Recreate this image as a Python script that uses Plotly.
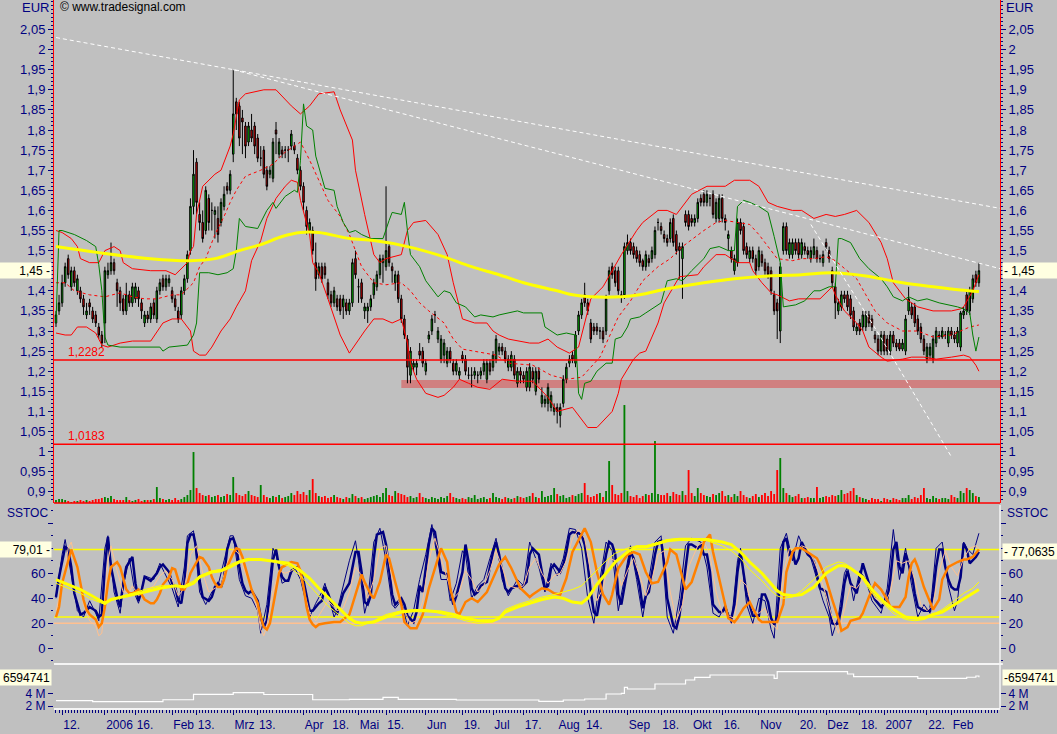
import plotly.graph_objects as go

NAVY = "#000080"
FONT = "Liberation Sans, Arial, sans-serif"

# ---------------- daily candles (trading-day index 0 = 8 Dec 2005) ----------------
opens = [
 1.32,1.35,1.37,1.42,1.48,1.41,1.45,1.40,1.40,1.38,
 1.34,1.37,1.35,1.34,1.31,1.29,1.32,1.44,1.45,1.47,
 1.42,1.40,1.38,1.35,1.39,1.37,1.38,1.40,1.37,1.32,
 1.34,1.33,1.37,1.33,1.40,1.43,1.41,1.42,1.40,1.38,
 1.35,1.34,1.40,1.43,1.50,1.61,1.72,1.59,1.57,1.55,
 1.63,1.60,1.59,1.58,1.57,1.61,1.66,1.65,1.74,1.87,
 1.86,1.83,1.81,1.77,1.80,1.81,1.78,1.73,1.75,1.70,
 1.69,1.68,1.80,1.74,1.75,1.75,1.75,1.76,1.76,1.73,
 1.70,1.66,1.60,1.55,1.55,1.47,1.44,1.46,1.46,1.42,
 1.39,1.37,1.38,1.38,1.36,1.37,1.35,1.37,1.48,1.41,
 1.42,1.35,1.35,1.36,1.39,1.41,1.44,1.47,1.46,1.51,
 1.46,1.42,1.44,1.38,1.33,1.28,1.19,1.21,1.21,1.25,
 1.25,1.20,1.28,1.30,1.34,1.28,1.23,1.24,1.22,1.25,
 1.22,1.20,1.19,1.24,1.23,1.19,1.19,1.19,1.19,1.19,
 1.20,1.18,1.22,1.21,1.23,1.25,1.26,1.25,1.21,1.21,
 1.23,1.17,1.20,1.19,1.16,1.16,1.20,1.15,1.20,1.12,
 1.12,1.12,1.11,1.10,1.11,1.09,1.12,1.18,1.22,1.24,
 1.22,1.30,1.34,1.39,1.37,1.32,1.31,1.31,1.30,1.30,
 1.30,1.40,1.46,1.45,1.45,1.39,1.39,1.50,1.52,1.51,
 1.50,1.49,1.475,1.46,1.48,1.48,1.49,1.57,1.56,1.54,
 1.53,1.53,1.58,1.54,1.51,1.48,1.59,1.59,1.58,1.57,
 1.58,1.63,1.64,1.62,1.63,1.64,1.58,1.58,1.63,1.58,
 1.53,1.50,1.45,1.47,1.57,1.56,1.51,1.48,1.50,1.48,
 1.46,1.49,1.47,1.46,1.45,1.39,1.37,1.30,1.50,1.56,
 1.49,1.49,1.52,1.52,1.49,1.51,1.50,1.48,1.49,1.50,
 1.48,1.47,1.52,1.50,1.45,1.41,1.35,1.36,1.39,1.39,
 1.38,1.35,1.30,1.32,1.31,1.31,1.34,1.33,1.29,1.28,
 1.25,1.29,1.28,1.25,1.29,1.27,1.27,1.255,1.25,1.35,
 1.36,1.36,1.33,1.31,1.28,1.23,1.24,1.23,1.27,1.29,
 1.285,1.29,1.27,1.30,1.29,1.27,1.26,1.34,1.39,1.35,
 1.38,1.44,1.42]
highs = [
 1.35,1.39,1.44,1.47,1.49,1.46,1.46,1.44,1.41,1.39,
 1.37,1.38,1.36,1.35,1.32,1.30,1.46,1.47,1.52,1.48,
 1.43,1.41,1.39,1.42,1.40,1.42,1.42,1.41,1.38,1.35,
 1.35,1.37,1.38,1.41,1.43,1.44,1.44,1.44,1.41,1.39,
 1.36,1.41,1.44,1.50,1.63,1.75,1.73,1.62,1.60,1.66,
 1.64,1.62,1.61,1.61,1.63,1.66,1.67,1.70,1.95,1.88,
 1.87,1.85,1.82,1.82,1.84,1.82,1.79,1.76,1.76,1.71,
 1.71,1.78,1.82,1.78,1.76,1.76,1.76,1.80,1.77,1.74,
 1.71,1.67,1.61,1.58,1.56,1.52,1.47,1.47,1.47,1.43,
 1.40,1.41,1.39,1.39,1.39,1.38,1.38,1.48,1.50,1.43,
 1.43,1.37,1.37,1.39,1.43,1.45,1.49,1.49,1.66,1.52,
 1.47,1.45,1.45,1.39,1.34,1.29,1.26,1.23,1.23,1.27,
 1.26,1.23,1.30,1.34,1.35,1.31,1.29,1.28,1.26,1.26,
 1.23,1.23,1.21,1.25,1.24,1.21,1.21,1.21,1.20,1.21,
 1.23,1.23,1.23,1.25,1.29,1.27,1.27,1.26,1.24,1.25,
 1.24,1.21,1.21,1.20,1.21,1.22,1.21,1.21,1.21,1.16,
 1.14,1.17,1.15,1.12,1.12,1.12,1.19,1.22,1.24,1.25,
 1.30,1.35,1.38,1.42,1.38,1.33,1.32,1.32,1.31,1.31,
 1.39,1.46,1.47,1.46,1.46,1.40,1.52,1.54,1.53,1.52,
 1.51,1.50,1.48,1.50,1.49,1.51,1.56,1.58,1.57,1.55,
 1.54,1.58,1.59,1.55,1.52,1.52,1.60,1.60,1.59,1.59,
 1.63,1.64,1.65,1.65,1.64,1.65,1.63,1.64,1.64,1.59,
 1.55,1.51,1.49,1.58,1.58,1.57,1.52,1.51,1.51,1.49,
 1.51,1.50,1.48,1.47,1.46,1.40,1.38,1.47,1.57,1.57,
 1.53,1.53,1.53,1.53,1.53,1.52,1.51,1.51,1.53,1.51,
 1.49,1.50,1.53,1.51,1.46,1.42,1.38,1.40,1.40,1.40,
 1.39,1.36,1.32,1.33,1.35,1.35,1.35,1.34,1.30,1.29,
 1.30,1.30,1.29,1.30,1.30,1.28,1.28,1.28,1.34,1.41,
 1.37,1.37,1.34,1.32,1.29,1.27,1.27,1.29,1.31,1.30,
 1.31,1.30,1.31,1.31,1.30,1.31,1.35,1.36,1.40,1.41,
 1.44,1.45,1.47]
lows = [
 1.31,1.34,1.36,1.41,1.43,1.40,1.41,1.39,1.37,1.34,
 1.33,1.34,1.32,1.31,1.28,1.26,1.27,1.43,1.44,1.44,
 1.36,1.35,1.34,1.34,1.36,1.36,1.37,1.36,1.33,1.31,
 1.32,1.32,1.33,1.32,1.39,1.40,1.40,1.41,1.37,1.35,
 1.32,1.33,1.39,1.42,1.49,1.59,1.59,1.55,1.52,1.54,
 1.55,1.55,1.53,1.52,1.56,1.60,1.64,1.64,1.72,1.80,
 1.76,1.74,1.73,1.76,1.77,1.74,1.72,1.71,1.68,1.65,
 1.68,1.67,1.74,1.73,1.73,1.73,1.72,1.75,1.74,1.69,
 1.65,1.60,1.54,1.54,1.49,1.40,1.43,1.42,1.43,1.38,
 1.36,1.36,1.35,1.34,1.33,1.34,1.34,1.36,1.43,1.37,
 1.37,1.33,1.32,1.35,1.38,1.40,1.43,1.42,1.45,1.46,
 1.42,1.40,1.37,1.32,1.28,1.17,1.17,1.20,1.19,1.23,
 1.21,1.19,1.27,1.29,1.32,1.27,1.22,1.22,1.21,1.22,
 1.19,1.19,1.18,1.22,1.19,1.18,1.16,1.18,1.17,1.18,
 1.19,1.17,1.19,1.20,1.22,1.24,1.24,1.22,1.20,1.20,
 1.18,1.16,1.17,1.17,1.15,1.15,1.17,1.14,1.17,1.11,
 1.11,1.10,1.10,1.09,1.07,1.06,1.11,1.17,1.21,1.22,
 1.21,1.29,1.33,1.36,1.34,1.27,1.29,1.29,1.28,1.27,
 1.29,1.39,1.43,1.41,1.39,1.37,1.38,1.49,1.49,1.48,
 1.47,1.46,1.45,1.45,1.46,1.47,1.48,1.55,1.54,1.52,
 1.51,1.52,1.51,1.49,1.43,1.38,1.56,1.55,1.56,1.56,
 1.57,1.61,1.61,1.61,1.61,1.58,1.57,1.57,1.57,1.55,
 1.50,1.47,1.44,1.46,1.54,1.49,1.48,1.47,1.47,1.44,
 1.45,1.46,1.44,1.43,1.39,1.34,1.28,1.27,1.49,1.49,
 1.48,1.48,1.49,1.48,1.48,1.49,1.48,1.47,1.48,1.47,
 1.47,1.46,1.50,1.47,1.41,1.33,1.34,1.35,1.37,1.35,
 1.33,1.30,1.29,1.29,1.30,1.30,1.31,1.30,1.27,1.24,
 1.24,1.24,1.24,1.24,1.26,1.25,1.25,1.25,1.24,1.34,
 1.33,1.31,1.29,1.27,1.24,1.22,1.23,1.22,1.26,1.28,
 1.28,1.28,1.26,1.28,1.27,1.26,1.25,1.33,1.34,1.34,
 1.37,1.41,1.41]
closes = [
 1.34,1.37,1.42,1.46,1.44,1.45,1.42,1.43,1.38,1.36,
 1.35,1.36,1.33,1.32,1.29,1.27,1.45,1.45,1.47,1.45,
 1.40,1.37,1.35,1.39,1.37,1.41,1.41,1.38,1.35,1.34,
 1.33,1.36,1.34,1.40,1.42,1.41,1.43,1.43,1.38,1.36,
 1.33,1.40,1.43,1.49,1.61,1.69,1.62,1.57,1.53,1.65,
 1.57,1.60,1.60,1.54,1.62,1.64,1.65,1.69,1.84,1.84,
 1.78,1.82,1.76,1.81,1.78,1.76,1.73,1.73,1.69,1.66,
 1.70,1.77,1.79,1.77,1.74,1.75,1.75,1.79,1.75,1.70,
 1.66,1.62,1.56,1.57,1.50,1.43,1.46,1.43,1.44,1.39,
 1.37,1.40,1.36,1.35,1.38,1.35,1.37,1.47,1.44,1.41,
 1.38,1.36,1.36,1.38,1.42,1.44,1.48,1.48,1.50,1.47,
 1.45,1.44,1.38,1.33,1.29,1.21,1.25,1.22,1.22,1.24,
 1.22,1.22,1.29,1.33,1.34,1.30,1.28,1.27,1.25,1.23,
 1.20,1.22,1.20,1.23,1.20,1.19,1.19,1.20,1.19,1.20,
 1.22,1.22,1.20,1.24,1.28,1.26,1.25,1.23,1.23,1.24,
 1.19,1.20,1.19,1.18,1.20,1.21,1.18,1.20,1.18,1.14,
 1.13,1.16,1.14,1.11,1.10,1.11,1.18,1.21,1.23,1.23,
 1.29,1.34,1.37,1.37,1.35,1.28,1.30,1.30,1.30,1.28,
 1.38,1.45,1.44,1.42,1.40,1.385,1.51,1.52,1.50,1.49,
 1.48,1.47,1.46,1.49,1.47,1.50,1.55,1.57,1.55,1.53,
 1.52,1.57,1.52,1.50,1.50,1.51,1.57,1.56,1.57,1.58,
 1.62,1.62,1.62,1.64,1.63,1.59,1.62,1.63,1.58,1.57,
 1.54,1.48,1.48,1.57,1.55,1.50,1.49,1.50,1.48,1.45,
 1.50,1.47,1.45,1.44,1.40,1.35,1.35,1.46,1.56,1.50,
 1.52,1.52,1.50,1.49,1.52,1.50,1.49,1.50,1.51,1.48,
 1.48,1.49,1.51,1.48,1.42,1.37,1.37,1.39,1.38,1.36,
 1.34,1.31,1.31,1.30,1.34,1.34,1.32,1.31,1.28,1.25,
 1.29,1.25,1.25,1.29,1.27,1.26,1.255,1.27,1.33,1.38,
 1.34,1.32,1.30,1.28,1.25,1.26,1.26,1.28,1.30,1.285,
 1.30,1.29,1.30,1.29,1.28,1.30,1.345,1.35,1.35,1.40,
 1.43,1.42,1.45]
volumes = [  # thousand shares
 3,4,4,3,2,1,2,2,3,2, 3,2,3,4,4,5,6,5,7,4, 3,3,3,6,3,2,3,4,2,3,
 3,3,4,16,5,4,3,4,3,5, 3,4,6,8,13,51,15,10,8,7, 8,6,7,8,6,7,9,8,26,10,
 8,7,9,12,8,7,6,18,8,6, 5,7,6,8,5,6,7,10,8,12, 9,11,8,13,24,10,7,6,7,5,
 6,8,6,5,4,6,5,9,7,5, 6,4,5,6,7,8,6,10,15,8, 7,12,10,9,8,6,7,5,6,10,
 6,5,4,6,5,4,6,5,7,10, 6,5,4,5,4,6,5,8,4,5, 6,4,5,10,6,5,4,6,5,4,
 5,7,6,5,6,7,10,6,5,12, 6,7,8,15,9,7,8,5,6,8, 7,9,10,20,8,6,7,9,10,6,
 12,42,18,9,8,10,98,12,7,6, 8,5,7,9,8,10,62,9,8,8, 10,7,11,9,8,12,8,33,10,7,
 15,10,8,7,6,9,8,10,12,7, 8,6,9,7,12,8,6,5,7,9, 6,8,10,7,12,9,33,45,15,10,
 8,6,7,9,5,5,6,5,5,16, 5,6,7,6,8,7,8,13,9,10, 12,15,8,6,5,4,3,5,4,4,
 2,5,4,3,5,4,3,5,5,8, 4,6,5,8,15,5,4,7,5,4, 5,5,4,8,6,5,12,10,15,13,
 10,7,6]

# ---------------- x-axis labels (trading-day index of each date) ----------------
tick_days = [2, 16, 26, 38, 46, 58, 66, 81, 90, 99, 108, 121, 133, 143, 153, 164, 173,
             187, 198, 208, 218, 230, 243, 252, 263, 271, 285, 293]
tick_labels = ["12.", "2006", "16.", "Feb", "13.", "Mrz", "13.", "Apr", "18.", "Mai", "15.",
               "Jun", "19.", "Jul", "17.", "Aug", "14.", "Sep", "18.", "Okt", "16.", "Nov",
               "20.", "Dez", "18.", "2007", "22.", "Feb"]

price_ticks = [0.9, 0.95, 1.0, 1.05, 1.1, 1.15, 1.2, 1.25, 1.3, 1.35, 1.4, 1.45, 1.5, 1.55,
               1.6, 1.65, 1.7, 1.75, 1.8, 1.85, 1.9, 1.95, 2.0, 2.05]
price_tick_labels = ["0,9", "0,95", "1", "1,05", "1,1", "1,15", "1,2", "1,25", "1,3", "1,35",
                     "1,4", "", "1,5", "1,55", "1,6", "1,65", "1,7", "1,75", "1,8", "1,85",
                     "1,9", "1,95", "2", "2,05"]
stoch_ticks = [0, 20, 40, 60, 80, 100]
stoch_tick_labels = ["0", "20", "40", "60", "", ""]
obv_ticks = [2, 4]
obv_tick_labels = ["2 M", "4 M"]

# ---------------- overlays (day, value) ----------------
bb_upper_pts = [(0,1.55),(2,1.545),(5,1.53),(7,1.51),(8,1.48),(11,1.47),(14,1.47),(16,1.50),(19,1.51),(21,1.50),
 (22,1.47),(25,1.455),(31,1.45),(36,1.45),(39,1.44),(43,1.47),(44,1.50),(45,1.51),(46,1.59),(48,1.66),
 (52,1.69),(54,1.70),(57,1.76),(58,1.79),(60,1.875),(62,1.89),(68,1.90),(72,1.90),(77,1.86),(80,1.84),
 (83,1.86),(86,1.89),(91,1.895),(93,1.85),(97,1.775),(98,1.70),(101,1.59),(104,1.49),(106,1.47),(108,1.48),
 (113,1.49),(115,1.55),(117,1.57),(121,1.575),(125,1.54),(128,1.49),(130,1.42),(133,1.33),(137,1.32),(141,1.32),
 (143,1.30),(145,1.29),(148,1.28),(155,1.27),(158,1.27),(161,1.28),(164,1.26),(168,1.245),(171,1.26),(175,1.38),
 (179,1.41),(182,1.45),(185,1.49),(190,1.55),(192,1.57),(197,1.60),(200,1.60),(203,1.59),(205,1.61),(208,1.64),
 (213,1.66),(219,1.66),(222,1.675),(227,1.675),(230,1.66),(233,1.62),(236,1.61),(241,1.60),(244,1.60),(248,1.58),
 (252,1.59),(255,1.585),(258,1.59),(262,1.60),(266,1.57),(270,1.52),(272,1.48),(274,1.42),(278,1.38),(282,1.36),
 (287,1.35),(293,1.35),(296,1.355),(297,1.36),(300,1.40),(302,1.44)]
bb_lower_pts = [(0,1.295),(3,1.29),(5,1.29),(7,1.31),(10,1.31),(13,1.295),(15,1.265),(17,1.26),(21,1.27),(25,1.275),
 (31,1.275),(35,1.32),(38,1.33),(41,1.33),(44,1.30),(45,1.25),(47,1.24),(49,1.24),(51,1.26),(54,1.30),
 (57,1.33),(59,1.36),(62,1.40),(64,1.475),(67,1.525),(69,1.58),(72,1.63),(75,1.66),(77,1.675),(79,1.67),
 (80,1.625),(83,1.54),(84,1.47),(86,1.445),(89,1.38),(93,1.29),(96,1.245),(99,1.28),(101,1.30),(104,1.33),
 (107,1.33),(110,1.32),(113,1.33),(115,1.27),(116,1.22),(118,1.18),(121,1.145),(125,1.135),(127,1.14),(130,1.16),
 (132,1.18),(135,1.17),(138,1.16),(142,1.155),(146,1.18),(151,1.175),(156,1.175),(161,1.135),(164,1.10),(169,1.11),
 (172,1.08),(174,1.06),(177,1.06),(180,1.085),(182,1.10),(184,1.145),(185,1.18),(189,1.23),(191,1.245),(193,1.25),
 (197,1.32),(199,1.37),(201,1.395),(204,1.435),(210,1.44),(212,1.46),(216,1.49),(219,1.49),(222,1.475),(223,1.47),
 (227,1.47),(228,1.45),(231,1.42),(234,1.395),(236,1.39),(240,1.375),(243,1.38),(250,1.38),(254,1.41),(255,1.39),
 (258,1.35),(262,1.32),(264,1.30),(266,1.26),(270,1.235),(272,1.225),(277,1.23),(280,1.235),(284,1.235),(288,1.23),
 (293,1.235),(297,1.24),(299,1.235),(301,1.215),(302,1.20)]
bb_mid_pts = [(0,1.42),(3,1.42),(6,1.40),(11,1.39),(16,1.385),(21,1.395),(25,1.385),(29,1.38),(33,1.38),(38,1.39),
 (41,1.39),(45,1.42),(47,1.46),(49,1.48),(52,1.54),(55,1.585),(57,1.62),(59,1.65),(62,1.685),(67,1.70),
 (71,1.715),(75,1.745),(79,1.765),(80,1.77),(83,1.725),(86,1.675),(89,1.625),(93,1.585),(96,1.54),(98,1.50),
 (100,1.46),(104,1.42),(108,1.415),(113,1.42),(116,1.40),(119,1.37),(122,1.35),(127,1.32),(130,1.28),(133,1.255),
 (137,1.25),(141,1.245),(144,1.24),(148,1.22),(156,1.215),(162,1.19),(167,1.18),(172,1.185),(175,1.21),(178,1.235),
 (181,1.285),(184,1.335),(188,1.375),(190,1.40),(192,1.425),(197,1.46),(201,1.48),(205,1.51),(212,1.55),(216,1.57),
 (219,1.575),(223,1.57),(227,1.565),(230,1.54),(233,1.51),(236,1.48),(241,1.475),(244,1.48),(248,1.48),(252,1.485),
 (255,1.475),(262,1.43),(265,1.39),(268,1.35),(272,1.32),(277,1.30),(282,1.30),(287,1.285),(293,1.29),(296,1.30),
 (299,1.31),(302,1.315)]
stop_line_pts = [(0,1.32),(1,1.55),(2,1.55),(6,1.54),(10,1.525),(13,1.51),(14,1.465),(15,1.40),(16,1.285),(17,1.265),
 (21,1.26),(27,1.26),(34,1.26),(35,1.25),(37,1.26),(43,1.265),(45,1.29),(46,1.32),(47,1.445),(50,1.445),
 (53,1.44),(56,1.445),(58,1.455),(59,1.50),(60,1.58),(62,1.56),(66,1.555),(69,1.60),(71,1.62),(72,1.605),
 (75,1.635),(78,1.65),(79,1.645),(80,1.725),(81,1.865),(82,1.81),(84,1.80),(85,1.735),(88,1.655),(91,1.65),
 (92,1.61),(94,1.57),(96,1.545),(98,1.55),(100,1.54),(103,1.53),(107,1.53),(109,1.575),(110,1.595),(113,1.59),
 (114,1.62),(115,1.55),(116,1.49),(119,1.46),(121,1.425),(125,1.385),(127,1.40),(129,1.395),(131,1.37),(134,1.36),
 (137,1.335),(139,1.34),(143,1.335),(145,1.34),(151,1.35),(153,1.345),(159,1.345),(160,1.31),(164,1.29),(167,1.295),
 (170,1.29),(171,1.145),(172,1.13),(173,1.17),(175,1.175),(177,1.20),(180,1.22),(182,1.22),(183,1.28),(185,1.285),
 (187,1.31),(188,1.33),(191,1.335),(193,1.345),(198,1.37),(200,1.425),(203,1.43),(205,1.425),(208,1.45),(212,1.48),
 (214,1.505),(217,1.51),(220,1.50),(222,1.50),(223,1.61),(225,1.625),(227,1.62),(230,1.61),(233,1.595),(235,1.535),
 (237,1.47),(238,1.36),(242,1.365),(245,1.375),(248,1.40),(250,1.40),(253,1.41),(255,1.41),(256,1.53),(257,1.53),
 (260,1.52),(263,1.48),(266,1.455),(270,1.43),(272,1.41),(274,1.385),(277,1.375),(279,1.385),(282,1.375),(285,1.38),
 (289,1.37),(295,1.36),(297,1.355),(299,1.345),(300,1.29),(301,1.25),(302,1.285)]
ma_pts = [(0,1.51),(14,1.495),(31,1.48),(44,1.475),(52,1.48),(60,1.50),(67,1.515),(74,1.535),(80,1.545),(86,1.545),
 (96,1.53),(104,1.525),(115,1.51),(126,1.487),(136,1.46),(145,1.44),(153,1.42),(164,1.40),(169,1.39),(175,1.385),
 (185,1.385),(191,1.39),(200,1.405),(212,1.42),(222,1.43),(233,1.437),(244,1.44),(254,1.445),(265,1.437),(277,1.42),
 (287,1.41),(296,1.402),(302,1.398)]

trend_lines = [[(0, 2.03), (309, 1.605)],
               [(58, 1.95), (309, 1.455)],
               [(247, 1.565), (269, 1.295), (293, 0.987)]]
support_levels = [1.2282, 1.0183]
zone_start_day, zone_low, zone_high = 113, 1.158, 1.178

# ---------------- SSTOC panel ----------------
k_thick_pts = [(0,41),(1,57),(3,81),(4,79),(5,65),(6,44),(8,27),(9,28),(11,33),(13,30),(14,25),(15,27),(16,65),(17,89),
 (18,65),(20,41),(21,33),(22,52),(23,65),(25,73),(26,52),(27,38),(28,46),(29,57),(31,54),(33,60),(34,65),(35,67),
 (37,61),(38,52),(39,49),(40,38),(41,36),(42,52),(43,84),(44,91),(45,91),(46,79),(47,54),(48,41),(50,38),(51,41),
 (52,49),(53,52),(54,49),(55,57),(56,79),(57,87),(58,88),(59,81),(60,65),(61,52),(62,46),(63,44),(64,46),(66,38),
 (67,25),(68,17),(69,22),(70,46),(71,71),(72,79),(73,65),(74,57),(75,54),(76,54),(77,62),(79,65),(80,62),(81,54),
 (82,41),(83,30),(84,30),(85,33),(86,36),(87,38),(88,49),(89,44),(91,30),(92,28),(93,36),(94,44),(96,52),(98,77),
 (99,77),(100,61),(101,37),(102,35),(103,42),(104,72),(105,91),(107,93),(108,83),(109,61),(110,43),(111,35),(113,40),
 (114,35),(115,26),(117,21),(118,29),(119,50),(120,45),(122,83),(123,96),(124,93),(125,75),(126,61),(128,59),(129,48),
 (130,35),(131,42),(133,61),(134,83),(135,69),(136,48),(137,43),(138,45),(139,50),(141,53),(143,77),(144,85),(145,75),
 (146,61),(147,48),(148,45),(149,48),(151,50),(152,48),(154,53),(155,75),(156,80),(158,75),(159,61),(160,48),(161,50),
 (162,64),(163,67),(164,64),(165,61),(166,67),(167,77),(168,91),(169,93),(171,92),(172,91),(173,83),(174,67),(175,45),
 (176,29),(177,26),(178,40),(179,61),(180,75),(181,85),(182,83),(183,75),(184,43),(185,35),(187,61),(188,77),(189,72),
 (190,61),(191,50),(192,32),(193,42),(194,45),(195,61),(196,75),(197,85),(198,86),(199,70),(200,40),(202,18),(203,16),
 (204,26),(205,45),(206,61),(207,83),(208,83),(210,80),(211,83),(212,75),(213,75),(214,61),(215,35),(217,29),(218,29),
 (219,32),(220,26),(221,24),(222,35),(223,61),(224,77),(225,59),(226,43),(227,35),(228,26),(230,26),(231,43),(232,43),
 (233,37),(234,24),(235,19),(236,24),(237,53),(238,85),(239,88),(240,75),(241,77),(242,67),(243,72),(244,85),(246,75),
 (247,73),(248,69),(249,59),(250,48),(251,47),(252,45),(253,33),(254,20),(255,19),(256,20),(257,33),(258,52),(259,62),
 (260,52),(262,44),(263,55),(264,68),(265,60),(267,44),(268,39),(270,33),(272,39),(273,55),(274,79),(275,85),(276,65),
 (277,60),(278,76),(280,60),(281,44),(282,33),(284,30),(286,30),(287,44),(288,65),(289,79),(290,79),(291,65),(292,55),
 (293,49),(294,47),(295,47),(296,57),(297,84),(298,79),(299,68),(301,73),(302,77.06)]
k_thin_pts = [(0,40),(2,75),(3,87),(5,60),(7,30),(9,25),(11,38),(13,28),(14,22),(16,80),(17,90),(19,45),(21,28),(22,50),
 (24,72),(26,42),(27,36),(29,58),(32,55),(34,68),(36,58),(38,48),(40,33),(42,65),(43,90),(45,94),(47,45),(49,35),
 (51,45),(53,50),(55,70),(57,90),(58,90),(60,55),(62,42),(64,40),(66,30),(67,12),(69,35),(71,80),(72,75),(74,52),
 (76,55),(78,65),(80,55),(82,35),(83,25),(85,36),(87,45),(88,52),(91,25),(92,30),(94,50),(96,70),(98,86),(99,70),
 (101,28),(102,38),(104,85),(106,96),(108,70),(110,35),(111,32),(113,38),(115,18),(117,30),(119,55),(121,75),(123,99),
 (124,85),(126,55),(128,55),(129,38),(131,52),(133,78),(134,75),(136,40),(138,50),(140,55),(142,72),(144,88),(146,55),
 (148,42),(151,55),(153,50),(155,85),(156,78),(158,65),(160,45),(162,68),(164,58),(166,72),(168,96),(170,95),(172,80),
 (174,40),(176,20),(178,55),(180,85),(182,78),(184,30),(186,55),(188,82),(190,55),(192,25),(194,55),(196,85),(198,90),
 (200,25),(202,12),(204,40),(206,82),(208,88),(211,85),(213,65),(215,28),(217,25),(219,35),(221,20),(223,70),(224,80),
 (226,35),(228,20),(230,40),(232,38),(234,15),(235,8),(237,80),(239,92),(241,70),(243,90),(245,78),(247,72),(249,55),
 (251,38),(253,25),(254,10),(256,25),(258,60),(259,65),(261,38),(263,62),(265,55),(267,38),(270,28),(272,48),(274,95),
 (276,55),(278,80),(280,50),(282,25),(284,35),(286,28),(288,80),(290,85),(292,50),(294,30),(295,38),(297,85),(298,80),
 (300,75),(302,92)]
d_thick_pts = [(0,25),(1,33),(2,52),(4,71),(5,79),(7,65),(8,52),(9,39),(10,31),(11,27),(12,25),(13,23),(14,17),(15,20),
 (16,33),(17,52),(18,65),(20,69),(21,65),(22,55),(23,47),(24,44),(25,44),(26,45),(27,47),(28,43),(29,39),(31,36),
 (32,36),(33,39),(34,44),(35,51),(37,57),(38,64),(39,63),(40,55),(41,47),(42,47),(43,52),(44,60),(45,65),(46,69),
 (47,73),(48,72),(50,65),(51,57),(52,52),(53,49),(54,49),(55,55),(56,65),(57,71),(58,76),(59,80),(60,79),(61,73),
 (62,65),(63,57),(64,47),(66,36),(67,25),(68,17),(69,15),(70,20),(71,33),(72,49),(73,60),(74,65),(75,66),(76,68),
 (77,69),(79,68),(80,62),(81,49),(82,33),(83,23),(84,19),(85,17),(86,19),(88,20),(91,21),(93,21),(96,27),(98,43),
 (100,59),(101,53),(103,43),(104,40),(106,53),(108,75),(109,72),(111,53),(113,35),(114,21),(116,16),(118,16),(120,27),
 (122,48),(125,72),(126,80),(128,69),(129,48),(131,29),(132,27),(134,37),(136,40),(138,37),(141,45),(143,56),(145,67),
 (147,73),(149,64),(152,48),(155,41),(156,43),(159,48),(161,47),(163,44),(165,43),(167,56),(169,77),(172,91),(173,96),
 (175,85),(177,61),(179,43),(181,35),(182,43),(184,64),(187,75),(189,77),(191,75),(193,61),(195,52),(197,53),(200,69),
 (201,79),(203,75),(205,56),(206,47),(208,53),(211,75),(212,85),(214,91),(215,77),(217,56),(219,35),(220,24),(222,21),
 (223,24),(225,32),(227,37),(228,32),(230,23),(231,21),(234,21),(236,21),(238,35),(239,61),(241,77),(242,80),(244,80),
 (247,75),(249,72),(250,67),(252,55),(254,39),(256,24),(257,14),(259,17),(260,22),(263,24),(264,28),(266,41),(268,52),
 (270,47),(272,39),(273,33),(276,33),(278,41),(279,57),(280,68),(281,71),(282,65),(284,49),(286,36),(287,31),(289,39),
 (290,55),(292,65),(294,68),(295,69),(297,71),(298,71),(300,73),(302,79)]
d_thin_pts = [(0,30),(2,50),(4,80),(5,85),(7,62),(9,35),(11,22),(13,18),(14,10),(15,12),(16,40),(17,70),(18,82),(20,62),
 (22,45),(24,45),(25,50),(27,42),(29,45),(32,50),(34,58),(36,62),(38,55),(40,42),(42,48),(44,75),(46,82),(48,60),
 (50,45),(52,48),(54,50),(56,68),(58,80),(60,75),(62,60),(64,48),(66,30),(67,15),(68,10),(69,18),(71,45),(73,62),
 (75,60),(77,62),(79,65),(81,48),(83,28),(85,22),(87,30),(89,38),(92,30),(94,32),(96,45),(98,65),(100,58),(102,40),
 (104,55),(106,80),(108,82),(110,55),(112,38),(114,30),(116,20),(118,22),(120,38),(122,70),(124,88),(126,72),(128,55),
 (130,40),(132,45),(134,62),(136,55),(138,45),(140,50),(142,62),(144,78),(146,65),(148,50),(151,48),(153,50),(155,65),
 (157,72),(159,60),(161,52),(163,58),(165,60),(167,70),(169,88),(171,95),(173,88),(175,60),(177,38),(179,48),(181,72),
 (183,70),(185,50),(187,62),(189,72),(191,58),(193,42),(195,55),(197,75),(199,78),(201,45),(203,22),(205,35),(207,65),
 (210,82),(212,85),(214,75),(216,45),(218,28),(220,26),(222,24),(224,55),(226,50),(228,30),(230,28),(232,32),(234,20),
 (236,15),(238,60),(240,80),(242,78),(244,82),(246,80),(248,70),(250,58),(252,42),(254,25),(256,12),(258,30),(260,50),
 (262,48),(264,55),(266,52),(268,40),(271,35),(273,45),(275,70),(277,68),(279,70),(281,55),(283,35),(285,30),(287,35),
 (289,62),(291,78),(293,65),(295,58),(297,72),(299,80),(301,82),(302,80)]
slow_thick_pts = [(0,55),(4,51),(8,47),(11,43),(14,39),(16,36),(18,39),(22,41),(25,43),(29,45),(34,48),(39,50),(42,49),
 (45,52),(47,57),(51,61),(54,62),(57,65),(60,69),(63,71),(67,71),(70,70),(73,69),(76,68),(80,62),(83,56),(86,48),
 (89,41),(93,31),(96,24),(98,21),(100,20),(104,21),(108,25),(113,29),(117,30),(121,30),(126,29),(130,27),(134,24),
 (138,22),(143,22),(145,24),(147,29),(151,33),(155,36),(159,39),(163,41),(166,40),(169,37),(172,36),(174,40),(177,51),
 (180,60),(183,69),(187,77),(190,81),(193,81),(196,83),(200,86),(204,87),(208,87),(213,87),(218,85),(221,83),(224,77),
 (227,69),(231,60),(234,52),(236,46),(238,43),(241,42),(244,43),(248,49),(252,60),(256,66),(258,66),(260,64),(264,57),
 (267,47),(271,37),(274,31),(278,25),(281,24),(284,24),(287,27),(290,29),(294,35),(297,40),(300,44),(302,47)]
slow_thin_pts = [(0,52),(4,48),(8,44),(11,40),(14,37),(16,35),(18,38),(22,42),(25,44),(29,47),(34,50),(39,50),(42,50),
 (45,54),(47,58),(51,62),(54,63),(57,67),(60,70),(63,72),(67,71),(70,70),(73,68),(76,66),(80,58),(83,50),(86,42),
 (89,34),(93,26),(96,20),(98,18),(100,18),(104,22),(108,27),(113,30),(117,31),(121,31),(126,28),(130,25),(134,22),
 (138,20),(143,21),(145,25),(147,31),(151,35),(155,38),(159,41),(163,43),(166,45),(169,47),(172,50),(174,55),(177,62),
 (180,70),(183,76),(187,80),(190,82),(193,82),(196,84),(200,87),(204,88),(208,88),(213,86),(218,82),(221,78),(224,72),
 (227,63),(231,54),(234,46),(236,42),(238,40),(241,41),(244,46),(248,55),(252,65),(256,69),(258,68),(260,65),(264,55),
 (267,44),(271,35),(274,28),(278,23),(281,22),(284,23),(287,27),(290,31),(294,38),(297,44),(300,48),(302,53)]
stoch_levels = [79.01, 25, 20]

# ---------------- bottom panel (cumulative volume line, shares in millions) ----------------
obv_pts = [(0,2.85),(12,2.69),(35,3.0),(45,3.87),(58,4.13),(68,3.84),(84,3.0),(96,3.07),(107,3.39),(112,3.07),
 (131,2.96),(158,2.75),(166,2.96),(173,3.12),(180,3.92),(185,4.03),(186,4.99),(187,4.72),(196,5.52),(206,6.16),
 (209,6.59),(214,6.96),(235,6.43),(236,7.49),(259,7.12),(261,6.69),(282,6.43),(298,6.6),(301,6.8),(302,6.594741)]

# ---------------- figure ----------------
days = list(range(len(closes)))
unz = lambda pts: ([p[0] for p in pts], [p[1] for p in pts])

fig = go.Figure()
vol_colors = ["#008000" if c >= o else "#FF0000" for o, c in zip(opens, closes)]
fig.add_trace(go.Bar(x=days, y=volumes, yaxis="y5", marker=dict(color=vol_colors, line=dict(width=0)),
                     width=0.6))
fig.add_trace(go.Candlestick(x=days, open=opens, high=highs, low=lows, close=closes,
                             increasing=dict(line=dict(color="black", width=1), fillcolor="#00D000"),
                             decreasing=dict(line=dict(color="black", width=1), fillcolor="#F00000"),
                             whiskerwidth=0))

def line(pts, color, width, yaxis="y", dash=None, shape="linear"):
    x, y = unz(pts)
    fig.add_trace(go.Scatter(x=x, y=y, mode="lines", yaxis=yaxis,
                             line=dict(color=color, width=width, dash=dash, shape=shape)))

line(bb_upper_pts, "#FF0000", 1)
line(bb_lower_pts, "#FF0000", 1)
line(bb_mid_pts, "#FF0000", 1, dash="dot")
line(stop_line_pts, "#008000", 1)
line(ma_pts, "#FFFF00", 3, shape="spline")
for tl in trend_lines:
    line(tl, "#FFFFFF", 1, dash="4px,3px")

line(k_thin_pts, NAVY, 1, "y2")
line(k_thick_pts, NAVY, 2.5, "y2")
line(d_thin_pts, "#FFC090", 1, "y2")
line(d_thick_pts, "#FF8000", 2.5, "y2")
line(slow_thin_pts, "#FFFF00", 1, "y2")
line(slow_thick_pts, "#FFFF00", 3, "y2")
line(obv_pts, "#FFFFFF", 1.2, "y3", shape="hv")

# invisible anchors so the right-hand axes are drawn
for ax, val in (("y4", closes[-1]), ("y6", 50), ("y7", 4)):
    fig.add_trace(go.Scatter(x=[days[0]], y=[val], yaxis=ax, mode="markers",
                             marker=dict(opacity=0), hoverinfo="skip"))

shapes = []
shapes.append(dict(type="rect", xref="x", yref="y", x0=zone_start_day, x1=309, y0=zone_low, y1=zone_high,
                   fillcolor="#D08080", line=dict(width=0), layer="below"))
for lv in support_levels:
    shapes.append(dict(type="line", xref="x domain", yref="y", x0=0, x1=1, y0=lv, y1=lv,
                       line=dict(color="#FF0000", width=1.5)))
for lv, col in zip(stoch_levels, ["#FFFF00", "#FFFF00", "#FFC090"]):
    shapes.append(dict(type="line", xref="x domain", yref="y2", x0=0, x1=1, y0=lv, y1=lv,
                       line=dict(color=col, width=1.5), layer="below"))
shapes.append(dict(type="line", xref="paper", yref="paper", x0=0, x1=1, y0=0.2895, y1=0.2895,
                   line=dict(color="#FF0000", width=1.5)))
shapes.append(dict(type="line", xref="paper", yref="paper", x0=0, x1=1.003, y0=0.0621, y1=0.0621,
                   line=dict(color="#F4F4F4", width=2)))
shapes.append(dict(type="line", xref="paper", yref="paper", x0=1, x1=1, y0=0, y1=0.2867,
                   line=dict(color="#F4F4F4", width=1.5)))

ann = []
BOXFONT = dict(family=FONT, size=12, color="black")
def box(text, yref, y, side):
    if side == "left":
        ann.append(dict(text=text, xref="paper", x=-0.002, xanchor="right", yref=yref, y=y, yanchor="middle",
                        showarrow=False, bgcolor="#FFFFE1", width=51, height=13, align="right", borderpad=1,
                        font=BOXFONT))
    else:
        ann.append(dict(text=text, xref="paper", x=1.002, xanchor="left", yref=yref, y=y, yanchor="middle",
                        showarrow=False, bgcolor="#FFFFE1", width=53, height=13, align="left", borderpad=1,
                        font=BOXFONT))

box("1,45 -", "y", closes[-1], "left")
box("- 1,45", "y", closes[-1], "right")
box("79,01 -", "y2", stoch_levels[0], "left")
box("- 77,0635", "y2", k_thick_pts[-1][1], "right")
box("6594741", "y3", obv_pts[-1][1], "left")
box("-6594741", "y3", obv_pts[-1][1], "right")

for lv in support_levels:
    ann.append(dict(text=f"{lv:.4f}".replace(".", ","), xref="x", x=10, yref="y", y=lv, yanchor="bottom",
                    showarrow=False, yshift=-1, font=dict(family=FONT, size=12, color="#FF0000")))
ann.append(dict(text="EUR", xref="paper", x=-0.003, xanchor="right", yref="paper", y=1.0, yanchor="top",
                yshift=2, showarrow=False, font=dict(family=FONT, size=13, color=NAVY)))
ann.append(dict(text="EUR", xref="paper", x=1.004, xanchor="left", yref="paper", y=1.0, yanchor="top",
                yshift=2, showarrow=False, font=dict(family=FONT, size=13, color=NAVY)))
ann.append(dict(text="© www.tradesignal.com", xref="paper", x=0.004, xanchor="left", yref="paper", y=1.0,
                yanchor="top", yshift=2, showarrow=False, font=dict(family=FONT, size=12, color="black")))
ann.append(dict(text="SSTOC", xref="paper", x=-0.004, xanchor="right", yref="paper", y=0.2754, yanchor="middle",
                showarrow=False, font=dict(family=FONT, size=12, color=NAVY)))
ann.append(dict(text="SSTOC", xref="paper", x=1.005, xanchor="left", yref="paper", y=0.2754, yanchor="middle",
                showarrow=False, font=dict(family=FONT, size=12, color=NAVY)))

def yax(domain, rng, tv, tt, side="left", overlay=None, line_col=None, minor=None, fsize=13):
    d = dict(domain=domain, range=rng, tickmode="array", tickvals=tv, ticktext=tt, side=side,
             ticks="outside", ticklen=5, tickcolor=NAVY, tickfont=dict(family=FONT, size=fsize, color=NAVY),
             showgrid=False, zeroline=False, anchor="x", fixedrange=True)
    if overlay:
        d["overlaying"] = overlay
    if line_col:
        d.update(showline=True, linecolor=line_col, linewidth=1)
    else:
        d["showline"] = False
    if minor:
        d["minor"] = dict(tickmode="linear", tick0=0, dtick=minor, ticks="outside", ticklen=2, tickcolor=NAVY)
    return d

P_DOM, S_DOM, O_DOM = [0.2895, 1.0], [0.0636, 0.2867], [0.0, 0.0607]
P_RNG, S_RNG, O_RNG = [0.8721, 2.1234], [-11.76, 114.6], [1.68, 8.56]

fig.update_layout(
    width=1057, height=734, margin=dict(l=54, r=57, t=0, b=26, autoexpand=False),
    paper_bgcolor="#C0C0C0", plot_bgcolor="#C0C0C0", showlegend=False, hovermode=False,
    font=dict(family=FONT, size=13, color=NAVY),
    xaxis=dict(domain=[0, 1], range=[-0.65, 308.9], anchor="y3", tickmode="array", tickvals=tick_days,
               ticktext=tick_labels, ticks="outside", ticklen=5, tickcolor=NAVY,
               tickfont=dict(family=FONT, size=12, color=NAVY), tickangle=0, ticklabelstandoff=5,
               ticklabelposition="outside right", showline=True, linecolor="#F4F4F4", linewidth=1.5,
               showgrid=False, zeroline=False, rangeslider=dict(visible=False), fixedrange=True,
               minor=dict(tickmode="linear", tick0=0, dtick=1, ticks="outside", ticklen=3, tickcolor=NAVY)),
    yaxis=yax(P_DOM, P_RNG, price_ticks, price_tick_labels, line_col="#FF0000", minor=0.01),
    yaxis4=yax(P_DOM, P_RNG, price_ticks, price_tick_labels, side="right", overlay="y", line_col="#FF0000",
               minor=0.01),
    yaxis5=dict(domain=P_DOM, range=[0, 503], overlaying="y", visible=False, anchor="x", fixedrange=True),
    yaxis2=yax(S_DOM, S_RNG, stoch_ticks, stoch_tick_labels, minor=10),
    yaxis6=yax(S_DOM, S_RNG, stoch_ticks, stoch_tick_labels, side="right", overlay="y2", minor=10),
    yaxis3=yax(O_DOM, O_RNG, obv_ticks, obv_tick_labels, fsize=12),
    yaxis7=yax(O_DOM, O_RNG, obv_ticks, obv_tick_labels, side="right", overlay="y3", fsize=12),
    shapes=shapes, annotations=ann,
)

fig.write_html("out.html", config={"displayModeBar": False, "staticPlot": True},
               post_script="document.body.style.margin='0px';document.body.style.overflow='hidden';")
